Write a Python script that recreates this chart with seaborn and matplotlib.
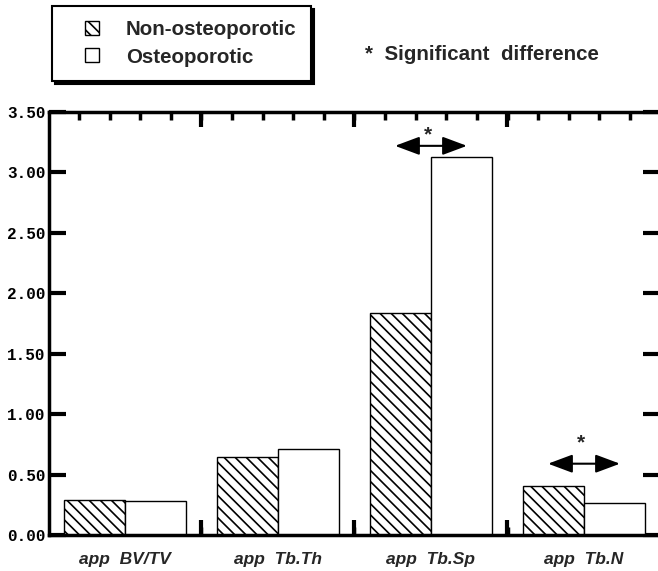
import numpy as np
import pandas as pd
import matplotlib
matplotlib.use('Agg')
import matplotlib.pyplot as plt
import seaborn as sns
from matplotlib.patches import Patch, Rectangle
from matplotlib.legend_handler import HandlerPatch
from matplotlib.ticker import MultipleLocator, FixedLocator

# data
params = ['BV/TV', 'Tb.Th', 'Tb.Sp', 'Tb.N']
tick_labels = ['app  BV/TV', 'app  Tb.Th', 'app  Tb.Sp', 'app  Tb.N']
groups = ['Non-osteoporotic', 'Osteoporotic']
non_osteo = [0.29, 0.645, 1.84, 0.405]
osteo = [0.28, 0.71, 3.13, 0.265]
sig_params = ['Tb.Sp', 'Tb.N']
sig_arrow_y = [3.22, 0.59]
sig_star_y = [3.31, 0.76]

HATCH = '\\\\\\'

df = pd.DataFrame({
    'param': params * 2,
    'group': [groups[0]] * len(params) + [groups[1]] * len(params),
    'value': non_osteo + osteo,
})

sns.set_style('white')
plt.rcParams['font.family'] = ['Liberation Sans', 'DejaVu Sans']
plt.rcParams['hatch.linewidth'] = 1.2

fig = plt.figure(figsize=(6.58, 5.71), dpi=100)
ax = fig.add_axes([48.5 / 658, 36 / 571, 612 / 658, 423 / 571])

sns.barplot(data=df, x='param', y='value', hue='group', order=params,
            hue_order=groups, palette=['white', 'white'], saturation=1,
            edgecolor='black', linewidth=1.0, width=0.8, ax=ax, legend=False)
for bar in ax.containers[0]:
    bar.set_hatch(HATCH)

ax.set_xlim(-0.5, 3.5)
ax.set_ylim(0, 3.5)
ax.set_xlabel('')
ax.set_ylabel('')

# spines
for side in ['left', 'top', 'bottom']:
    ax.spines[side].set_linewidth(2.5)
    ax.spines[side].set_color('black')
ax.spines['right'].set_visible(False)

# y ticks on both sides, pointing in
ax.yaxis.set_major_locator(MultipleLocator(0.5))
ax.yaxis.set_major_formatter('{x:.2f}')
ax.tick_params(axis='y', which='major', direction='in', length=12, width=3,
               left=True, right=True, pad=2, colors='black')
for lab in ax.get_yticklabels():
    lab.set_fontfamily('Liberation Mono')
    lab.set_fontweight('bold')
    lab.set_fontsize(11.5)

# x: labels at group centres, small ticks every 0.2, long ticks between groups
ax.set_xticks(range(len(params)))
ax.set_xticklabels(tick_labels, fontstyle='italic', fontweight='bold', fontsize=12.5)
ax.tick_params(axis='x', which='major', length=0, pad=12)
ax.xaxis.set_minor_locator(FixedLocator(np.arange(-0.3, 3.45, 0.2)))
ax.tick_params(axis='x', which='minor', direction='in', length=6, width=2.5,
               bottom=True, top=True, color='black')

for side in ['bottom', 'top']:
    sec = ax.secondary_xaxis(side)
    sec.set_xticks([0.5, 1.5, 2.5])
    sec.tick_params(direction='in', length=11, width=3, color='black',
                    labelbottom=False, labeltop=False)
    sec.spines[side].set_visible(False)

# significance arrows
for p, ya, ys in zip(sig_params, sig_arrow_y, sig_star_y):
    xc = params.index(p)
    ax.annotate('', xy=(xc - 0.235, ya), xytext=(xc + 0.235, ya),
                arrowprops=dict(arrowstyle='<|-|>,head_length=0.75,head_width=0.28',
                                color='black', lw=1.5, mutation_scale=20,
                                shrinkA=0, shrinkB=0))
    ax.text(xc - 0.02, ys, '*', ha='center', va='center', fontsize=15,
            fontweight='bold')


# legend with square swatches sitting at the right of the handle box
def square(legend, orig_handle, xdescent, ydescent, width, height, fontsize):
    s = 10
    return Rectangle((-xdescent + width - s, -ydescent + (height - s) / 2), s, s)


handles = [Patch(facecolor='white', edgecolor='black', hatch=HATCH, label=groups[0]),
           Patch(facecolor='white', edgecolor='black', label=groups[1])]
leg = fig.legend(handles=handles, loc='upper left',
                 bbox_to_anchor=(52 / 658, 1 - 6 / 571), borderaxespad=0,
                 frameon=True, fancybox=False, framealpha=1, edgecolor='black',
                 shadow={'color': 'black', 'alpha': 1},
                 prop=dict(weight='bold', size=14.8),
                 handler_map={Patch: HandlerPatch(patch_func=square)},
                 handlelength=1.6, handleheight=0.7, handletextpad=1.3,
                 borderpad=0.7, labelspacing=0.4)
leg.get_frame().set_linewidth(1.5)

fig.text(365 / 658, 1 - 55 / 571, '*  Significant  difference', fontsize=14.8,
         fontweight='bold', va='center', ha='left')

fig.savefig('out.png', dpi=100)
